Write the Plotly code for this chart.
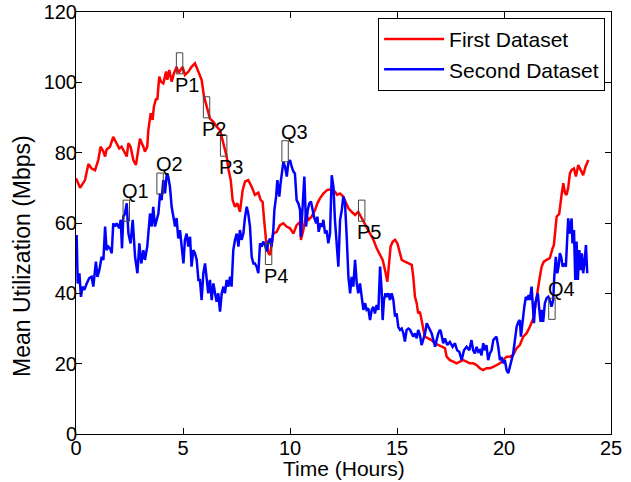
import plotly.graph_objects as go

# Mean utilization over a day, two datasets
red_hours = [0.00, 0.19, 0.42, 0.58, 0.73, 0.89, 1.04, 1.15, 1.28, 1.36, 1.43, 1.59, 1.74, 1.90, 2.02,
             2.13, 2.21, 2.37, 2.45, 2.55, 2.68, 2.80, 2.91, 2.99, 3.07, 3.15, 3.22, 3.33, 3.38, 3.49,
             3.58, 3.64, 3.74, 3.80, 3.89, 3.97, 4.08, 4.21, 4.27, 4.36, 4.47, 4.58, 4.70, 4.80, 4.86,
             4.98, 5.09, 5.25, 5.40, 5.56, 5.72, 5.87, 5.98, 6.11, 6.26, 6.42, 6.57, 6.73, 6.84, 6.92,
             7.04, 7.13, 7.23, 7.32, 7.43, 7.54, 7.66, 7.79, 7.90, 8.05, 8.21, 8.36, 8.52, 8.63, 8.72,
             8.79, 8.88, 8.99, 9.07, 9.14, 9.22, 9.38, 9.53, 9.69, 9.84, 10.00, 10.16, 10.31, 10.47,
             10.51, 10.62, 10.75, 10.86, 11.01, 11.17, 11.28, 11.40, 11.56, 11.74, 11.95, 12.10, 12.21,
             12.34, 12.49, 12.62, 12.73, 12.88, 13.04, 13.19, 13.27, 13.40, 13.55, 13.74, 13.90, 14.05,
             14.17, 14.33, 14.44, 14.55, 14.63, 14.70, 14.80, 14.91, 15.02, 15.11, 15.22, 15.37, 15.53,
             15.69, 15.76, 15.84, 15.92, 15.99, 16.07, 16.15, 16.23, 16.30, 16.46, 16.61, 16.77, 16.93,
             17.08, 17.24, 17.32, 17.47, 17.63, 17.78, 17.94, 18.09, 18.25, 18.40, 18.56, 18.72, 18.87,
             19.03, 19.18, 19.34, 19.50, 19.65, 19.81, 19.96, 20.12, 20.28, 20.43, 20.59, 20.74, 20.90,
             21.05, 21.21, 21.37, 21.44, 21.52, 21.65, 21.76, 21.86, 21.99, 22.14, 22.27, 22.33, 22.46,
             22.58, 22.69, 22.77, 22.85, 22.92, 23.00, 23.08, 23.16, 23.27, 23.36, 23.47, 23.58, 23.70,
             23.81, 23.94]
red_mbps = [72.7, 70.0, 72.2, 76.8, 75.5, 75.0, 77.9, 81.7, 80.3, 78.9, 80.9, 81.7, 84.5, 82.7, 81.2,
            81.7, 80.8, 78.9, 82.7, 81.7, 77.9, 76.5, 80.8, 84.0, 82.7, 81.7, 80.3, 81.7, 86.4, 91.2,
            89.3, 93.1, 95.4, 95.0, 101.6, 100.2, 99.7, 103.1, 100.7, 103.5, 100.2, 102.6, 104.4, 102.6, 103.3,
            104.4, 102.1, 103.0, 104.4, 105.4, 103.0, 100.7, 96.0, 93.1, 89.7, 88.8, 87.4, 86.4, 83.6, 81.7,
            78.9, 75.1, 72.2, 66.5, 64.6, 65.6, 63.2, 69.4, 71.8, 72.2, 70.3, 68.0, 68.6, 66.5, 66.0,
            60.9, 55.2, 51.4, 50.9, 54.2, 57.0, 57.5, 59.4, 59.9, 59.0, 58.5, 57.0, 59.4, 60.3,
            55.2, 57.9, 62.3, 60.9, 61.8, 63.7, 65.6, 67.0, 68.4, 69.4, 69.6, 68.9, 68.0,
            68.4, 67.5, 65.6, 64.2, 63.2, 62.3, 63.2, 62.3, 60.9, 59.4, 57.0, 55.2, 52.8,
            51.4, 49.5, 46.6, 43.3, 48.5, 53.3, 54.7, 55.2, 54.2, 52.3, 49.5, 49.0, 48.5,
            48.1, 44.7, 39.0, 37.2, 34.3, 34.8, 31.9, 29.6, 27.7, 27.2, 26.7, 25.8, 25.3,
            24.8, 24.4, 22.0, 21.0, 20.6, 20.1, 20.6, 21.0, 20.6, 20.1, 20.1, 19.6, 18.7,
            18.2, 18.7, 18.7, 19.1, 19.6, 20.1, 21.0, 22.0, 22.0, 22.5, 24.4, 25.3, 27.7,
            28.6, 30.5, 32.9, 35.3, 39.0, 43.8, 47.6, 49.0, 49.5, 50.0, 52.8, 53.7, 61.8,
            62.6, 68.0, 71.3, 68.5, 68.0, 70.0, 74.1, 75.1, 75.5, 73.2, 76.5, 75.1, 73.6,
            76.0, 77.9]

blue_hours = [0.03, 0.08, 0.16, 0.23, 0.31, 0.39, 0.50, 0.62, 0.73, 0.81, 0.93, 1.00, 1.09, 1.20, 1.28,
              1.36, 1.43, 1.51, 1.59, 1.67, 1.74, 1.82, 1.90, 2.02, 2.09, 2.15, 2.21, 2.29, 2.37, 2.45,
              2.55, 2.65, 2.76, 2.87, 2.96, 3.05, 3.15, 3.22, 3.33, 3.40, 3.46, 3.54, 3.61, 3.69, 3.77,
              3.85, 3.93, 4.00, 4.08, 4.16, 4.24, 4.31, 4.39, 4.47, 4.55, 4.63, 4.70, 4.78, 4.86, 4.94,
              5.02, 5.09, 5.17, 5.25, 5.33, 5.40, 5.48, 5.56, 5.64, 5.72, 5.79, 5.87, 5.95, 6.03, 6.11,
              6.18, 6.26, 6.34, 6.42, 6.50, 6.57, 6.65, 6.73, 6.81, 6.89, 6.96, 7.04, 7.12, 7.20, 7.27,
              7.35, 7.43, 7.51, 7.59, 7.66, 7.74, 7.82, 7.90, 7.98, 8.05, 8.13, 8.21, 8.29, 8.36, 8.44,
              8.52, 8.60, 8.68, 8.75, 8.83, 8.91, 8.99, 9.07, 9.14, 9.22, 9.27, 9.35, 9.41, 9.50, 9.56,
              9.63, 9.69, 9.77, 9.85, 9.92, 10.00, 10.08, 10.16, 10.23, 10.31, 10.39, 10.47, 10.51, 10.59,
              10.67, 10.75, 10.83, 10.90, 10.98, 11.06, 11.12, 11.22, 11.28, 11.34, 11.43, 11.50, 11.56,
              11.64, 11.71, 11.79, 11.87, 11.95, 12.03, 12.10, 12.18, 12.26, 12.34, 12.42, 12.49, 12.57,
              12.65, 12.73, 12.81, 12.88, 12.96, 13.04, 13.12, 13.19, 13.27, 13.35, 13.43, 13.51, 13.58,
              13.66, 13.74, 13.82, 13.89, 13.97, 14.05, 14.13, 14.21, 14.28, 14.33, 14.39, 14.46, 14.52,
              14.60, 14.67, 14.75, 14.83, 14.91, 14.98, 15.06, 15.14, 15.22, 15.30, 15.37, 15.45, 15.53,
              15.61, 15.69, 15.76, 15.84, 15.92, 15.99, 16.07, 16.15, 16.23, 16.31, 16.39, 16.46, 16.54,
              16.62, 16.70, 16.78, 16.85, 16.93, 17.01, 17.05, 17.16, 17.24, 17.35, 17.47, 17.60, 17.71,
              17.81, 17.91, 18.02, 18.13, 18.25, 18.38, 18.48, 18.56, 18.64, 18.72, 18.80, 18.87, 18.95,
              19.03, 19.11, 19.18, 19.26, 19.34, 19.42, 19.50, 19.57, 19.65, 19.73, 19.81, 19.89, 19.96,
              20.04, 20.12, 20.20, 20.28, 20.35, 20.43, 20.51, 20.59, 20.67, 20.74, 20.79, 20.87, 20.95,
              21.02, 21.09, 21.15, 21.21, 21.29, 21.33, 21.40, 21.46, 21.52, 21.58, 21.65, 21.71, 21.77,
              21.83, 21.91, 21.99, 22.07, 22.14, 22.22, 22.30, 22.35, 22.42, 22.49, 22.55, 22.61, 22.67,
              22.74, 22.81, 22.89, 22.95, 23.00, 23.08, 23.16, 23.20, 23.27, 23.33, 23.39, 23.45, 23.52,
              23.58, 23.64, 23.70, 23.76, 23.83, 23.89]
blue_mbps = [56.6, 42.8, 45.7, 39.0, 41.9, 41.0, 42.8, 44.3, 44.7, 41.9, 49.0, 44.7, 46.6, 50.4, 49.5,
             59.0, 52.3, 53.3, 52.8, 51.4, 59.9, 59.0, 59.9, 58.5, 60.9, 52.8, 61.8, 62.7, 65.6, 57.0,
             54.2, 60.9, 50.4, 45.7, 54.2, 48.5, 52.3, 49.5, 53.3, 58.0, 62.7, 59.0, 64.6, 59.0, 61.3,
             62.7, 68.4, 66.5, 72.2, 68.4, 74.1, 73.2, 70.3, 64.6, 61.8, 59.0, 61.4, 55.6, 58.0, 53.3,
             48.5, 55.2, 57.0, 53.3, 56.1, 47.6, 52.3, 51.4, 49.5, 43.8, 43.8, 38.1, 45.7, 48.5, 42.8,
             40.0, 43.8, 38.1, 42.8, 40.0, 37.6, 40.0, 34.8, 40.0, 41.9, 40.0, 43.8, 41.9, 44.7, 41.9,
             52.3, 55.2, 57.0, 53.3, 58.0, 55.2, 57.0, 61.8, 64.6, 62.7, 59.0, 50.4, 48.5, 48.5, 47.6,
             45.7, 54.2, 53.3, 54.7, 53.8, 51.9, 54.7, 55.6, 53.3, 58.0, 63.7, 67.5, 72.2, 67.5, 71.3,
             74.1, 77.4, 76.0, 73.2, 77.0, 77.9, 76.0, 74.6, 74.1, 66.5, 65.6, 63.7, 56.1, 64.6,
             73.2, 59.0, 63.7, 65.6, 66.1, 63.7, 61.8, 59.9, 61.8, 57.5, 59.9, 58.9, 60.9,
             57.0, 57.9, 54.2, 57.0, 73.6, 70.3, 60.9, 53.3, 47.6, 60.9, 63.7, 67.5, 65.6,
             56.1, 44.7, 40.0, 44.7, 41.9, 49.5, 42.8, 40.0, 42.8, 38.1, 35.3, 37.2, 35.3,
             35.7, 32.4, 35.3, 36.2, 34.3, 36.7, 35.3, 47.6, 41.0, 32.4, 38.1, 40.0, 39.0,
             40.0, 38.1, 40.0, 38.1, 33.4, 34.3, 30.5, 29.6, 30.0, 28.6, 26.3, 29.6, 30.0,
             29.6, 28.6, 27.7, 28.6, 27.2, 29.6, 28.2, 25.3, 27.2, 28.6, 31.5, 30.5, 29.6,
             28.6, 26.7, 24.8, 26.7, 28.6, 29.6, 29.1, 25.8, 27.2, 25.3, 26.2, 24.8, 25.8,
             23.8, 23.4, 21.0, 23.8, 24.8, 23.8, 26.7, 23.8, 22.9, 24.8, 23.4, 23.8, 22.4,
             25.8, 23.8, 25.3, 21.0, 22.9, 23.8, 26.7, 27.2, 27.7, 24.8, 21.0, 21.9, 20.1,
             21.0, 18.2, 17.3, 19.2, 21.0, 22.9, 26.7, 30.5, 31.9, 32.4, 27.7, 32.4, 36.2,
             39.0, 38.1, 39.5, 38.1, 41.9, 37.2, 31.5, 37.2, 39.0, 40.0, 35.3, 31.9, 35.3,
             31.9, 37.2, 38.6, 39.0, 38.1, 36.2, 38.1, 44.7, 50.4, 45.7, 47.6, 51.4, 50.4,
             47.6, 48.5, 47.6, 55.2, 61.3, 57.0, 61.3, 54.2, 58.0, 43.8, 54.7, 43.8, 52.3,
             46.6, 51.4, 45.7, 48.5, 53.7, 45.7]

# Marked points: label, box centre (hours, Mbps), label above ("Q") or below ("P")
mark_names = ['P1', 'P2', 'P3', 'P4', 'P5', 'Q1', 'Q2', 'Q3', 'Q4']
mark_hours = [4.84, 6.10, 6.90, 9.00, 13.35, 2.35, 3.93, 9.77, 22.24]
mark_mbps = [105.4, 92.9, 82.0, 51.2, 63.5, 63.5, 71.2, 80.4, 35.6]

FONT = 'Arial, Liberation Sans, sans-serif'
BOX_W = 0.3   # hours
BOX_H = 6.0   # Mbps

fig = go.Figure()
fig.add_trace(go.Scatter(x=red_hours, y=red_mbps, mode='lines', name='First Dataset',
                         line=dict(color='#ff0000', width=2.5)))
fig.add_trace(go.Scatter(x=blue_hours, y=blue_mbps, mode='lines', name='Second Dataset',
                         line=dict(color='#0000ff', width=2.5)))

# little boxes and their labels
for name, hx, my in zip(mark_names, mark_hours, mark_mbps):
    fig.add_shape(type='rect', x0=hx - BOX_W / 2, x1=hx + BOX_W / 2,
                  y0=my - BOX_H / 2, y1=my + BOX_H / 2,
                  line=dict(color='#444444', width=1))
    if name.startswith('P'):
        fig.add_annotation(x=hx - BOX_W / 2, y=my - BOX_H / 2, text=name, showarrow=False,
                           xanchor='left', yanchor='top', xshift=-3, yshift=2,
                           font=dict(family=FONT, size=20, color='black'))
    else:
        fig.add_annotation(x=hx - BOX_W / 2, y=my + BOX_H / 2, text=name, showarrow=False,
                           xanchor='left', yanchor='bottom', xshift=-3, yshift=-4,
                           font=dict(family=FONT, size=20, color='black'))

# axis titles placed by hand so they sit tight like the original
fig.add_annotation(text='Time (Hours)', xref='paper', yref='paper', x=0.5, y=-0.081,
                   xanchor='center', yanchor='middle', showarrow=False,
                   font=dict(family=FONT, size=21, color='black'))
fig.add_annotation(text='Mean Utilization (Mbps)', xref='paper', yref='paper', x=-0.101, y=0.422,
                   xanchor='center', yanchor='middle', textangle=-90, showarrow=False,
                   font=dict(family=FONT, size=23, color='black'))

axis_style = dict(showline=True, linecolor='black', linewidth=1, mirror='ticks',
                  ticks='inside', ticklen=6, tickcolor='black', showgrid=False, zeroline=False,
                  automargin=False, ticklabeloverflow='allow',
                  tickfont=dict(family=FONT, size=20, color='black'))

fig.update_layout(
    width=631, height=482,
    margin=dict(l=76, r=20, t=12, b=48),
    paper_bgcolor='white', plot_bgcolor='white',
    font=dict(family=FONT, color='black'),
    xaxis=dict(range=[0, 25], tickvals=[0, 5, 10, 15, 20, 25], ticklabelstandoff=-4, **axis_style),
    yaxis=dict(range=[0, 120], tickvals=[0, 20, 40, 60, 80, 100, 120], ticklabelstandoff=-6, **axis_style),
    legend=dict(x=0.989, y=0.986, xanchor='right', yanchor='top',
                bordercolor='black', borderwidth=1, bgcolor='white', itemwidth=60,
                font=dict(family=FONT, size=21), tracegroupgap=0),
    showlegend=True,
)

# drop the page's default 8px body margin so the figure fills the window
fig.write_html("out.html", config={'displayModeBar': False},
               post_script="document.body.style.margin = '0';")
